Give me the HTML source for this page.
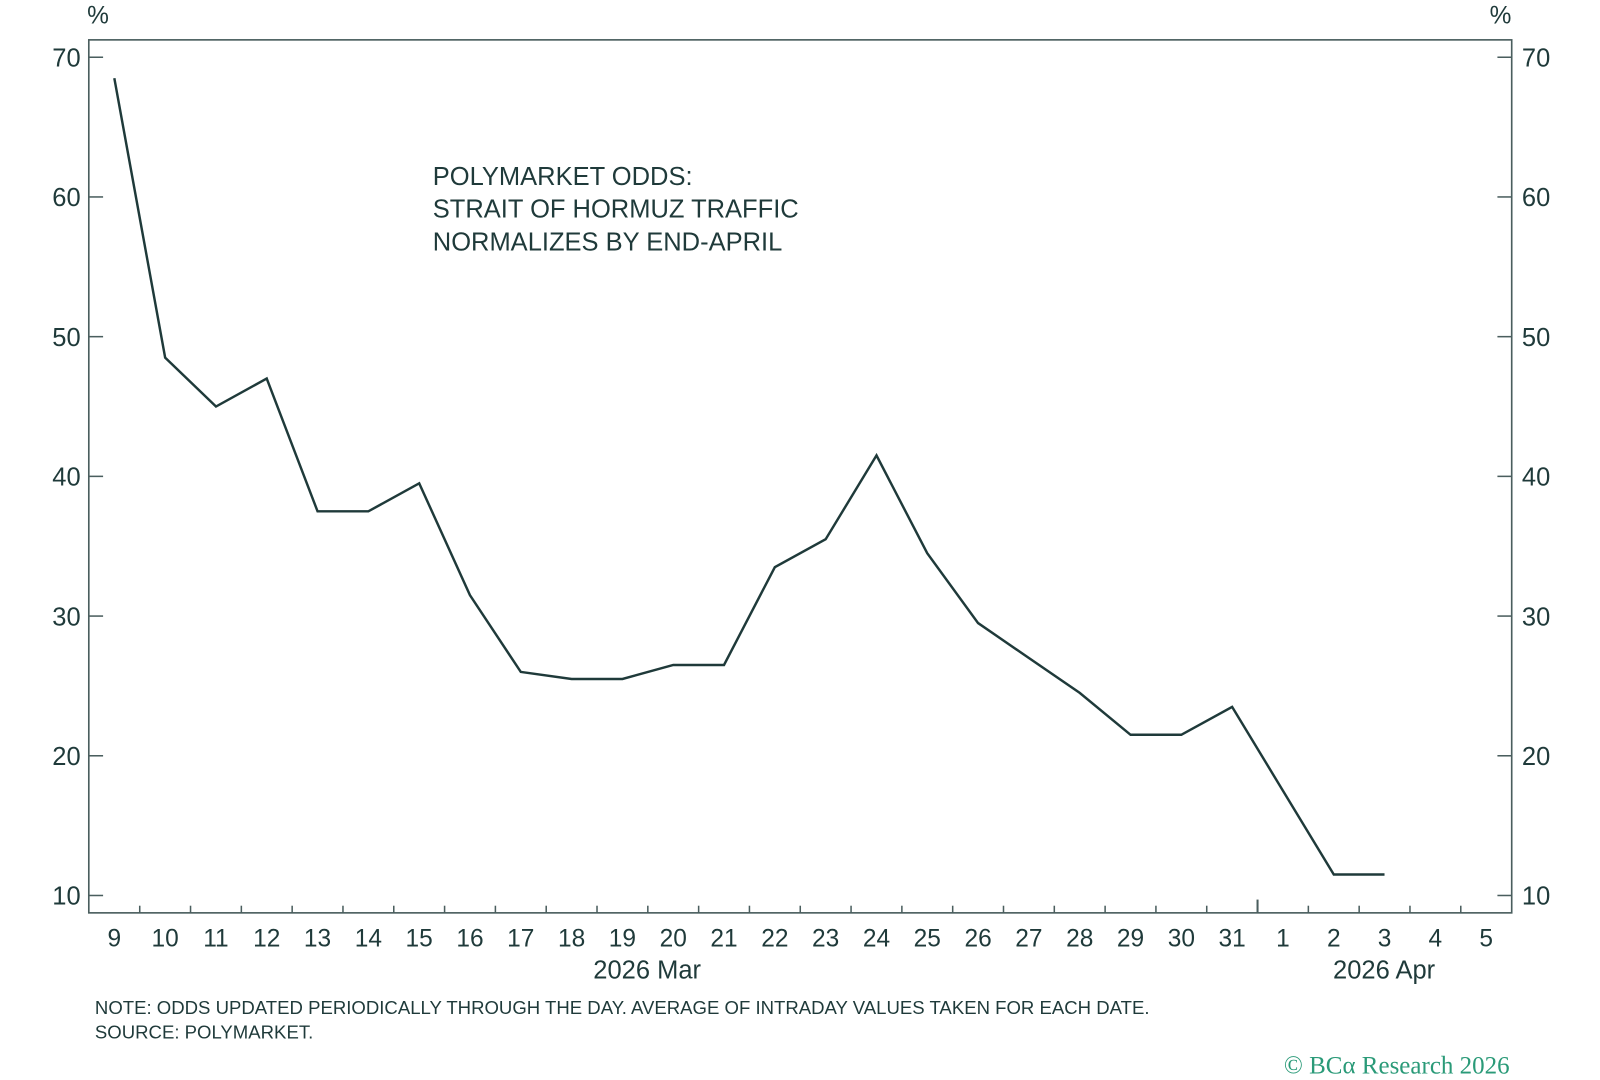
<!DOCTYPE html>
<html><head><meta charset="utf-8"><style>
body{margin:0;background:#fff;}
svg{display:block;font-family:"Liberation Sans",sans-serif;}
</style></head><body>
<svg id="chart" width="1600" height="1080" viewBox="0 0 1567.5 1056.5" preserveAspectRatio="none">
<rect x="87" y="39" width="1394" height="854" fill="none" stroke="#4a5e5e" stroke-width="1.6"/>
<text x="96" y="23" font-size="24" fill="#1f3a3a" text-anchor="middle">%</text>
<text x="1470" y="23" font-size="24" fill="#1f3a3a" text-anchor="middle">%</text>
<g fill="#1f3a3a" font-size="25">
<text x="424" y="181">POLYMARKET ODDS:</text>
<text x="424" y="213">STRAIT OF HORMUZ TRAFFIC</text>
<text x="424" y="245">NORMALIZES BY END-APRIL</text>
</g>
<g id="axes"></g>
<path id="series" fill="none" stroke="#1f3a3a" stroke-width="2.4" stroke-linejoin="miter"/>
<g fill="#1f3a3a" font-size="25" text-anchor="middle">
<text x="634" y="957">2026 Mar</text>
<text x="1356" y="957">2026 Apr</text>
</g>
<g fill="#1f3a3a" font-size="18.2">
<text x="93" y="992">NOTE: ODDS UPDATED PERIODICALLY THROUGH THE DAY. AVERAGE OF INTRADAY VALUES TAKEN FOR EACH DATE.</text>
<text x="93" y="1016">SOURCE: POLYMARKET.</text>
</g>
<text x="1479" y="1050" font-family="Liberation Serif,serif" font-size="24.5" fill="#2a9a78" text-anchor="end">© BCα Research 2026</text>
</svg>
<script>
const dayLabels=["9","10","11","12","13","14","15","16","17","18","19","20","21","22","23","24","25","26","27","28","29","30","31","1","2","3","4","5"];
const oddsValues=[68.5,48.5,45,47,37.5,37.5,39.5,31.5,26,25.5,25.5,26.5,26.5,33.5,35.5,41.5,34.5,29.5,27,24.5,21.5,21.5,23.5,17.5,11.5,11.5];
const yTicks=[10,20,30,40,50,60,70];
const NS="http://www.w3.org/2000/svg";
const x=i=>112+i*(1456-112)/27;
const y=v=>876-(v-10)*(876-56)/60;
const g=document.getElementById('axes');
function el(t,a){const e=document.createElementNS(NS,t);for(const k in a)e.setAttribute(k,a[k]);g.appendChild(e);return e;}
yTicks.forEach(v=>{
 let l=el('line',{x1:87,x2:101,y1:y(v),y2:y(v),stroke:'#4a5e5e','stroke-width':1.5});
 
 
 let r=el('line',{x1:1467,x2:1481,y1:y(v),y2:y(v),stroke:'#4a5e5e','stroke-width':1.5});
 
 
 let t=el('text',{x:79,y:y(v)+9,'font-size':25,fill:'#1f3a3a','text-anchor':'end'});t.textContent=v;
 
 
 let t2=el('text',{x:1491,y:y(v)+9,'font-size':25,fill:'#1f3a3a'});t2.textContent=v;
 
 
});
dayLabels.forEach((d,i)=>{
 let t=el('text',{x:x(i),y:926,'font-size':24,fill:'#1f3a3a','text-anchor':'middle'});t.textContent=d;
 
 
 if(i<27){const xm=(x(i)+x(i+1))/2;const big=(i===22);
  let k=el('line',{x1:xm,x2:xm,y1:893,y2:big?880:886,stroke:'#4a5e5e','stroke-width':big?2:1.5});
  
  }
});
document.getElementById('series').setAttribute('d',oddsValues.map((v,i)=>(i?'L':'M')+x(i).toFixed(1)+','+y(v).toFixed(1)).join(' '));
</script>
</body></html>
